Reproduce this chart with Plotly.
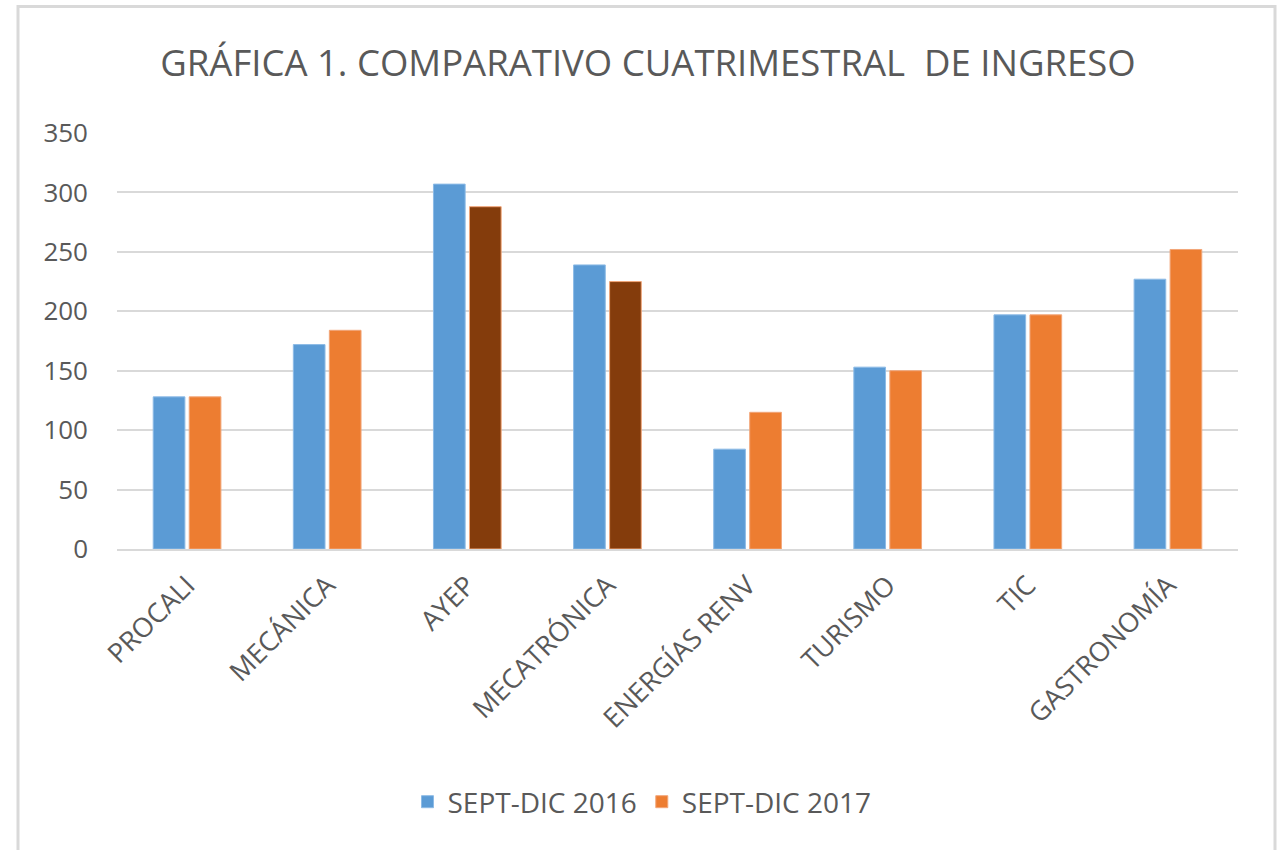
import plotly.graph_objects as go

categories = ["PROCALI", "MECÁNICA", "AYEP", "MECATRÓNICA", "ENERGÍAS RENV",
              "TURISMO", "TIC", "GASTRONOMÍA"]
sept_dic_2016 = [128, 172, 307, 239, 84, 153, 197, 227]
sept_dic_2017 = [128, 184, 288, 225, 115, 150, 197, 252]
colors_2017 = ["#ED7D31", "#ED7D31", "#843C0C", "#843C0C", "#ED7D31",
               "#ED7D31", "#ED7D31", "#ED7D31"]
y_ticks = [0, 50, 100, 150, 200, 250, 300, 350]

W, H = 1281, 850
L, R, T, B = 117, 43, 133, 301
pw, ph = W - L - R, H - T - B

def px_x(x):  # page x -> paper
    return (x - L) / pw

def px_y(y):  # page y -> paper
    return (T + ph - y) / ph

fig = go.Figure()
fig.add_trace(go.Bar(x=categories, y=sept_dic_2016, name="SEPT-DIC 2016",
                     marker=dict(color="#5B9BD5", line=dict(color="#8DBBE6", width=1))))
fig.add_trace(go.Bar(x=categories, y=sept_dic_2017, name="SEPT-DIC 2017",
                     marker=dict(color=colors_2017, line=dict(color="#F2A679", width=1))))

font = "Open Sans, Calibri, sans-serif"
fig.update_layout(
    width=W, height=H,
    margin=dict(l=L, r=R, t=T, b=B),
    paper_bgcolor="white", plot_bgcolor="white",
    barmode="group", bargap=0.486, bargroupgap=0.12,
    title=dict(text="GRÁFICA 1. COMPARATIVO CUATRIMESTRAL  DE INGRESO",
               xref="container", x=648 / W, xanchor="center",
               y=1 - 63 / H, yanchor="middle",
               font=dict(family=font, size=36.5, color="#595959")),
    font=dict(family=font, color="#595959"),
    showlegend=True,
    legend=dict(orientation="h", x=px_x(642), xanchor="center",
                y=px_y(802), yanchor="middle",
                font=dict(size=28, color="#595959"), itemwidth=30,
                traceorder="normal"),
    xaxis=dict(tickangle=-45, tickfont=dict(size=27, color="#595959"),
               showline=True, linecolor="#D9D9D9", linewidth=1.5,
               ticklabelstandoff=8, showgrid=False),
    yaxis=dict(range=[0, 350], tickvals=y_ticks, showgrid=True,
               gridcolor="#D9D9D9", gridwidth=1.5, zeroline=False,
               tickfont=dict(size=26, color="#595959"),
               ticklabelstandoff=28),
    shapes=[dict(type="rect", xref="paper", yref="paper",
                 x0=px_x(18), x1=px_x(1275),
                 y0=px_y(880), y1=px_y(6.5),
                 line=dict(color="#D9D9D9", width=3), layer="below")],
)

fig.write_html("out.html",
               config={"displayModeBar": False},
               post_script="document.body.style.margin='0';"
                           "document.body.style.overflow='hidden';")
